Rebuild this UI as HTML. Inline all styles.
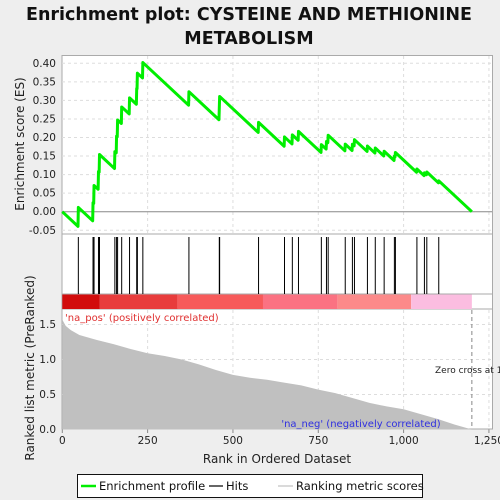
<!DOCTYPE html>
<html><head><meta charset="utf-8"><style>
body{margin:0;background:#eeeeee;}
svg{display:block;font-family:"DejaVu Sans","Liberation Sans",sans-serif;}
</style></head><body>
<svg id="c" width="500" height="500" viewBox="0 0 500 500">
<rect x="0" y="0" width="500" height="500" fill="#eeeeee"/>
<text x="249" y="20" font-size="17.5" font-weight="bold" text-anchor="middle" fill="#111">Enrichment plot: CYSTEINE AND METHIONINE</text>
<text x="249" y="44" font-size="17.5" font-weight="bold" text-anchor="middle" fill="#111">METABOLISM</text>
<rect x="62" y="55.5" width="430.5" height="178.5" fill="#fff" stroke="#aaa"/>
<rect x="62" y="234" width="430.5" height="60" fill="#fff" stroke="#aaa"/>
<rect x="62" y="294" width="430.5" height="15" fill="#fff" stroke="#aaa"/>
<rect x="62" y="309" width="430.5" height="120" fill="#fff" stroke="#aaa"/>
<g id="g"></g>
<text transform="translate(24,144) rotate(-90)" font-size="12" text-anchor="middle" fill="#222">Enrichment score (ES)</text>
<text transform="translate(34,368) rotate(-90)" font-size="12" text-anchor="middle" fill="#222">Ranked list metric (PreRanked)</text>
<text x="277" y="463" font-size="12" text-anchor="middle" fill="#222">Rank in Ordered Dataset</text>
<text x="65" y="321" font-size="10" fill="#e03030">'na_pos' (positively correlated)</text>
<text x="361" y="427" font-size="10" text-anchor="middle" fill="#3030e0">'na_neg' (negatively correlated)</text>
<g>
<rect x="77.5" y="474.5" width="345" height="23" fill="#fff" stroke="#111"/>
<line x1="81" y1="486" x2="96" y2="486" stroke="#00ee00" stroke-width="2.5"/>
<text x="99" y="490" font-size="11.5" fill="#111">Enrichment profile</text>
<line x1="209" y1="486" x2="223" y2="486" stroke="#000" stroke-width="1.2"/>
<text x="226" y="490" font-size="11.5" fill="#111">Hits</text>
<line x1="278" y1="486" x2="293" y2="486" stroke="#c0c0c0" stroke-width="1.2"/>
<text x="296" y="490" font-size="11.5" fill="#111">Ranking metric scores</text>
</g>
</svg>
<script>
const totalGenes = 1200;
const hitRanks = [47,90,93,106,109,154,159,162,174,197,218,220,236,371,460,461,575,651,674,692,759,774,779,829,850,856,894,917,943,973,976,1039,1061,1068,1103];
const metricRanks = [0,10,25,50,100,150,200,250,300,350,400,450,500,550,600,650,700,750,800,850,900,950,1000,1050,1100,1150,1200];
const metricValues = [1.57,1.48,1.42,1.35,1.28,1.22,1.15,1.09,1.05,1.0,0.93,0.85,0.78,0.74,0.71,0.67,0.63,0.57,0.52,0.45,0.38,0.33,0.29,0.22,0.15,0.07,0.0];
const esTicks = [-0.05,0,0.05,0.1,0.15,0.2,0.25,0.3,0.35,0.4];
const metricTicks = [0,0.5,1.0,1.5];
const xTicks = [0,250,500,750,1000,1250];
const xTickLabels = ["0","250","500","750","1,000","1,250"];

const NS="http://www.w3.org/2000/svg";
const g=document.getElementById('g');
function el(t,a){const e=document.createElementNS(NS,t);for(const k in a)e.setAttribute(k,a[k]);g.appendChild(e);return e;}
const xs=r=>62.3+r*0.3413;
const ys=v=>211.7-v*371;
const ym=v=>429.5-v*70;
function metricAt(r){for(let i=0;i<metricRanks.length-1;i++){if(r<=metricRanks[i+1]){const t=(r-metricRanks[i])/(metricRanks[i+1]-metricRanks[i]);return metricValues[i]+t*(metricValues[i+1]-metricValues[i]);}}return metricValues[metricValues.length-1];}

xTicks.forEach((t,i)=>{
 if(t>0){for(const [a,b] of [[56,233],[310,428]]){const l=el('line',{x1:xs(t),x2:xs(t),y1:a,y2:b,stroke:'#ddd','stroke-dasharray':'3,3'});}}
 const tk=el('line',{x1:xs(t),x2:xs(t),y1:429.5,y2:433,stroke:'#888'});
 
 const tx=el('text',{x:xs(t),y:444,'font-size':'10.5','text-anchor':'middle',fill:'#222'});tx.textContent=xTickLabels[i];
 
});
esTicks.forEach(t=>{
 const y=ys(t);
 const l=el('line',{x1:62,x2:492,y1:y,y2:y,stroke:t===0?'#888':'#ddd','stroke-dasharray':t===0?'':'3,3'});
 
 const tx=el('text',{x:56,y:y+3.5,'font-size':'10.5','text-anchor':'end',fill:'#222'});tx.textContent=t.toFixed(2);
 
});
metricTicks.forEach(t=>{
 const y=ym(t);
 if(t>0){const l=el('line',{x1:62,x2:492,y1:y,y2:y,stroke:'#ddd','stroke-dasharray':'3,3'});
 }
 const tx=el('text',{x:56,y:y+3.5,'font-size':'10.5','text-anchor':'end',fill:'#222'});tx.textContent=t.toFixed(1);
 
});

let d='M'+xs(0)+','+ym(0);
metricRanks.forEach((r,i)=>{d+=' L'+xs(r)+','+ym(metricValues[i]);});
d+=' L'+xs(metricRanks[metricRanks.length-1])+','+ym(0)+'Z';
const area=el('path',{d:d,fill:'#c0c0c0'});


const zc=el('line',{x1:xs(totalGenes),x2:xs(totalGenes),y1:310,y2:429,stroke:'#888','stroke-dasharray':'4,3'});


const zt=el('text',{x:435,y:373,'font-size':'9',fill:'#222'});zt.textContent='Zero cross at 1200';



const segStarts=[0,110,338,588,806,1022];
const segColors=['#d20c0c','#e83c3c','#f75a5a','#fb7282','#fc8a8a','#fbbde0'];
segStarts.forEach((s,i)=>{const e=i<segStarts.length-1?segStarts[i+1]:totalGenes;
 const r=el('rect',{x:xs(s),y:294.5,width:xs(e)-xs(s),height:14.5,fill:segColors[i]});
 });

hitRanks.forEach(r=>{
 const l=el('line',{x1:xs(r),x2:xs(r),y1:237,y2:294,stroke:'#000','stroke-width':'1'});
 
});

const hitSet=new Set(hitRanks);
let sumW=0;hitRanks.forEach(r=>sumW+=metricAt(r));
const miss=1/(totalGenes-hitRanks.length);
let es=0;let pts=[[0,0]];
for(let r=1;r<=totalGenes;r++){
 if(hitSet.has(r)){pts.push([r-1,es]);es+=metricAt(r)/sumW;pts.push([r,es]);}
 else es-=miss;
}
pts.push([totalGenes,es]);
const ln=el('polyline',{points:pts.map(p=>xs(p[0])+','+ys(p[1])).join(' '),fill:'none',stroke:'#00ee00','stroke-width':'3','stroke-linejoin':'round'});


</script>
</body></html>
